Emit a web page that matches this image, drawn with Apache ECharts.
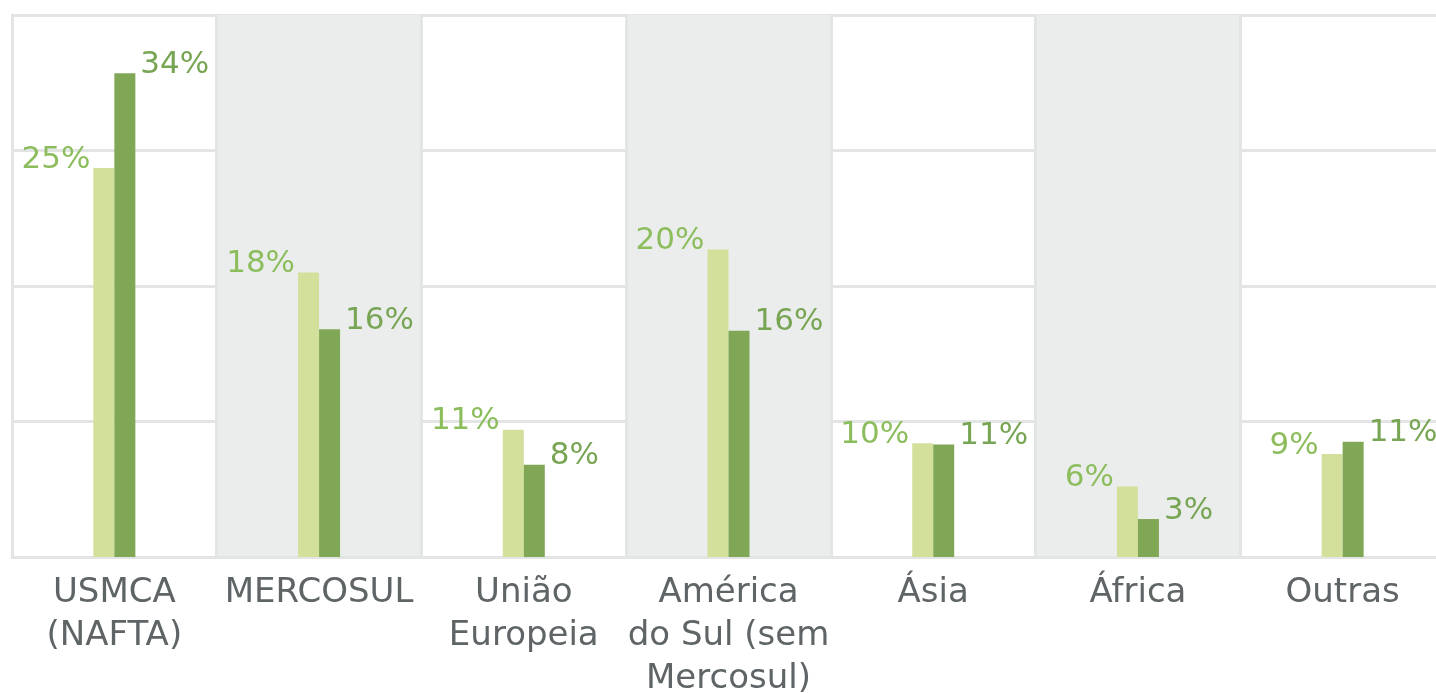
<!DOCTYPE html>
<html>
<head>
<meta charset="utf-8">
<script src="https://cdn.jsdelivr.net/npm/echarts@6/dist/echarts.min.js"></script>
<style>
  html, body { margin: 0; padding: 0; background: #fff; }
  #chart { width: 1436px; height: 693px; }
</style>
</head>
<body>
<div id="chart"></div>
<script>
// categories (regions)
var categories = ['USMCA\n(NAFTA)', 'MERCOSUL', 'União\nEuropeia', 'América\ndo Sul (sem\nMercosul)', 'Ásia', 'África', 'Outras']
// bar heights (axis units, axis is hidden)
var lightValues = [287, 210, 94, 227, 84, 52, 76]
var darkValues = [357, 168, 68, 167, 83, 28, 85]
// printed labels
var lightLabels = ['25%', '18%', '11%', '20%', '10%', '6%', '9%']
var darkLabels = ['34%', '16%', '8%', '16%', '11%', '3%', '11%']

var gridColor = '#e3e4e4'
var font = 'DejaVu Sans'

var chart = echarts.init(document.getElementById('chart'))
chart.setOption({
  animation: false,
  textStyle: { fontFamily: font },
  grid: { left: 12, top: 15, width: 1433, height: 542, containLabel: false, outerBoundsMode: 'none' },
  xAxis: {
    type: 'category',
    data: categories,
    boundaryGap: true,
    axisLine: { show: true, lineStyle: { color: gridColor, width: 3 } },
    axisTick: { show: false },
    splitLine: { show: true, lineStyle: { color: gridColor, width: 3 } },
    splitArea: { show: true, areaStyle: { color: ['rgba(0,0,0,0)', '#ebedec'] } },
    axisLabel: {
      interval: 0,
      margin: 15,
      color: '#5f6466',
      fontSize: 34,
      lineHeight: 43,
      fontFamily: font,
      verticalAlign: 'top'
    }
  },
  yAxis: {
    type: 'value',
    min: 0,
    max: 400,
    interval: 100,
    axisLine: { show: true, lineStyle: { color: gridColor, width: 3 } },
    axisTick: { show: false },
    axisLabel: { show: false },
    splitLine: { lineStyle: { color: gridColor, width: 3 } }
  },
  series: [
    {
      name: 'light',
      type: 'bar',
      data: lightValues,
      barWidth: 21,
      barGap: '0%',
      itemStyle: { color: '#d3e09b' },
      label: {
        show: true,
        position: [-3, 7],
        align: 'right',
        verticalAlign: 'bottom',
        color: '#8cbd5c',
        fontSize: 31,
        fontFamily: font,
        formatter: function (p) { return lightLabels[p.dataIndex] }
      }
    },
    {
      name: 'dark',
      type: 'bar',
      data: darkValues,
      barWidth: 21,
      itemStyle: { color: '#7fa756' },
      label: {
        show: true,
        position: [26, 7],
        align: 'left',
        verticalAlign: 'bottom',
        color: '#77a553',
        fontSize: 31,
        fontFamily: font,
        formatter: function (p) { return darkLabels[p.dataIndex] }
      }
    }
  ]
})
</script>
</body>
</html>
